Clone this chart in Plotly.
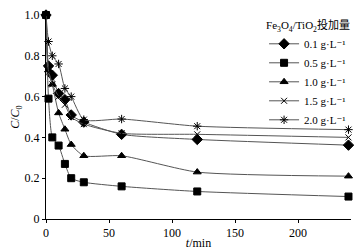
import plotly.graph_objects as go

t_min = [0, 2, 5, 10, 15, 20, 30, 60, 120, 240]
c_01 = [1.0, 0.75, 0.705, 0.615, 0.585, 0.51, 0.475, 0.415, 0.39, 0.362]
c_05 = [1.0, 0.59, 0.40, 0.36, 0.27, 0.20, 0.18, 0.16, 0.135, 0.11]
c_10 = [1.0, 0.73, 0.66, 0.52, 0.44, 0.365, 0.31, 0.31, 0.23, 0.21]
c_15 = [1.0, 0.72, 0.66, 0.60, 0.56, 0.50, 0.465, 0.42, 0.415, 0.40]
c_20 = [1.0, 0.87, 0.80, 0.76, 0.64, 0.60, 0.487, 0.49, 0.455, 0.438]

names = ["0.1 g·L⁻¹", "0.5 g·L⁻¹", "1.0 g·L⁻¹", "1.5 g·L⁻¹", "2.0 g·L⁻¹"]
series = [c_01, c_05, c_10, c_15, c_20]
symbols = ["diamond", "square", "triangle-up", "x-thin", "asterisk"]
sizes = [8, 7, 7, 6, 7]

fig = go.Figure()
for name, ys, sym, sz in zip(names, series, symbols, sizes):
    fig.add_trace(go.Scatter(
        x=t_min, y=ys, name=name, mode="lines+markers",
        line=dict(color="#555555", width=1, shape="spline", smoothing=0.6),
        marker=dict(symbol=sym, size=sz, color="black",
                    line=dict(color="black", width=1)),
        cliponaxis=False,
    ))

font = "Liberation Serif, DejaVu Serif, Noto Sans CJK SC, serif"
fig.update_layout(
    width=354, height=242,
    margin=dict(l=38, r=11, t=7, b=31),
    paper_bgcolor="white", plot_bgcolor="white",
    font=dict(family=font, size=12, color="black"),
    showlegend=True,
    legend=dict(
        title=dict(text="Fe<sub>3</sub>O<sub>4</sub>/TiO<sub>2</sub>投加量",
                   font=dict(family=font, size=11)),
        x=0.715, y=1.0, xanchor="left", yanchor="top",
        font=dict(family=font, size=11),
        bgcolor="rgba(0,0,0,0)", tracegroupgap=0, itemwidth=30,
    ),
    xaxis=dict(
        range=[0, 242], tickvals=[0, 50, 100, 150, 200],
        showline=True, linecolor="black", linewidth=1,
        ticks="outside", ticklen=3, tickcolor="black",
        showgrid=False, zeroline=False, automargin=False,
        ticklabeloverflow="allow",
        title=dict(text="<i>t</i>/min", standoff=2, font=dict(size=12)),
        tickfont=dict(size=12),
    ),
    yaxis=dict(
        range=[0, 1.0], tickvals=[0, 0.2, 0.4, 0.6, 0.8, 1.0],
        ticktext=["0", "0.2", "0.4", "0.6", "0.8", "1.0"],
        showline=True, linecolor="black", linewidth=1,
        ticks="outside", ticklen=3, tickcolor="black",
        showgrid=False, zeroline=False, automargin=False,
        ticklabeloverflow="allow",
        title=dict(text="<i>C</i>/<i>C</i><sub>0</sub>", standoff=6, font=dict(size=12)),
        tickfont=dict(size=12),
    ),
)

fig.write_html("out.html")
